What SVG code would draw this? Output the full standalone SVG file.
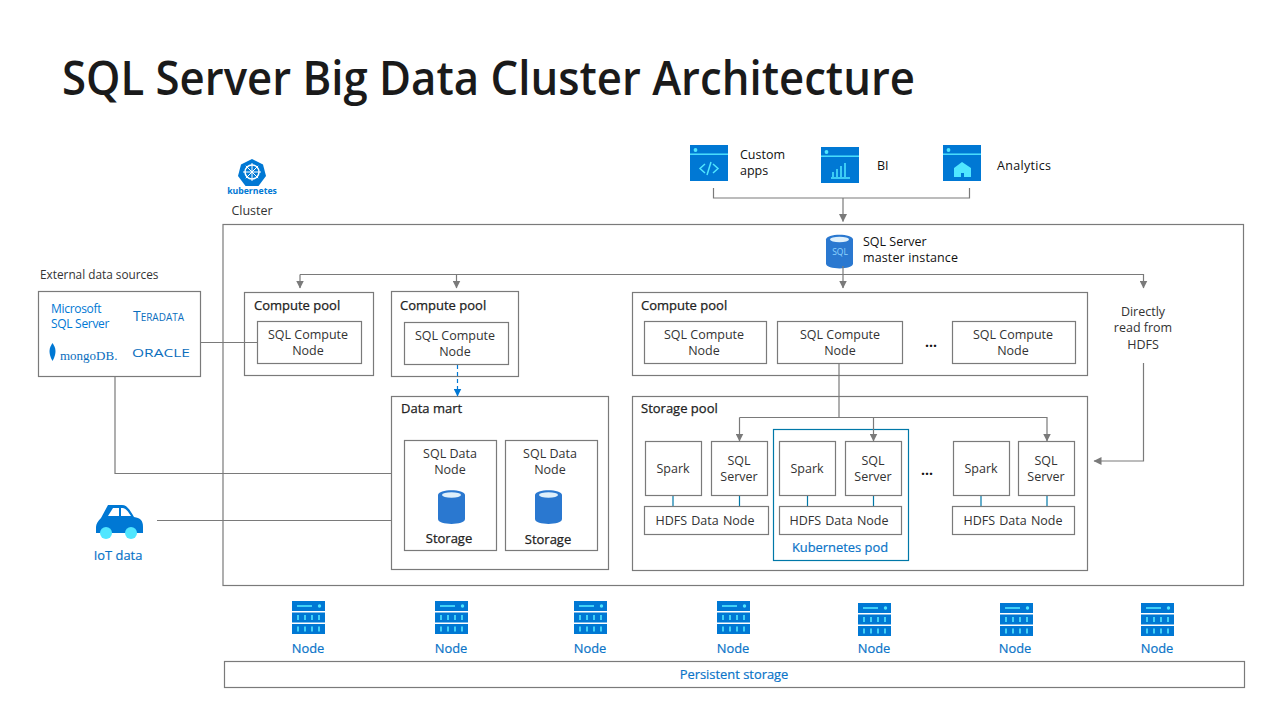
<svg xmlns="http://www.w3.org/2000/svg" width="1280" height="720" viewBox="0 0 1280 720">
<style>
text{font-family:"Open Sans","Noto Sans","Liberation Sans",sans-serif;font-size:12.500px;fill:#333}
.m{text-anchor:middle}
.b{font-weight:500;fill:#111}
.h{font-weight:500;fill:#222;font-size:13px;stroke:#222;stroke-width:.25px}
.blue{fill:#0a74c8;font-weight:500;font-size:12.900px;stroke:#0a74c8;stroke-width:.2px}
.box{fill:#fff;stroke:#7a7a7a;stroke-width:1.2}
.ln{fill:none;stroke:#7a7a7a;stroke-width:1.2}
.tl{fill:none;stroke:#0078a8;stroke-width:1.2}
.ic{fill:#0078d4}.lt{fill:#50e6ff}
.cyl{fill:#2a78d0}
</style>
<defs>
<marker id="a" markerWidth="9" markerHeight="8" refX="7.5" refY="4" orient="auto" markerUnits="userSpaceOnUse"><path d="M0 0L8 4L0 8Z" fill="#7a7a7a"/></marker>
<marker id="ab" markerWidth="9" markerHeight="8" refX="7.5" refY="4" orient="auto" markerUnits="userSpaceOnUse"><path d="M0 0L8 4L0 8Z" fill="#0078d4"/></marker>
<g id="srv"><rect x="0" y="0" width="33" height="10" class="ic"/><rect x="0" y="11.500" width="33" height="10" class="ic"/><rect x="0" y="23" width="33" height="10" class="ic"/><rect x="5" y="4.200" width="15" height="1.600" class="lt"/><circle cx="27.500" cy="5" r="1.700" class="lt"/><path d="M6 14v5M13 14v5M20 14v5M27 14v5M6 25.500v5M13 25.500v5M20 25.500v5M27 25.500v5" stroke="#50e6ff" stroke-width="1.600"/></g>
<g id="cy"><path d="M0 5C0-1.500 27-1.500 27 5V29C27 35.500 0 35.500 0 29Z" class="cyl"/><ellipse cx="13.500" cy="5" rx="9.500" ry="2.700" fill="#dff0fb"/></g>
<g id="win"><rect width="38" height="36" class="ic"/><rect y="8.500" width="38" height="1.400" class="lt"/><circle cx="5.500" cy="5" r="1.900" class="lt"/></g>
</defs>
<rect width="1280" height="720" fill="#fff"/>
<text x="62" y="95" style="font-size:46.500px;font-weight:600;fill:#1a1a1a" textLength="853" lengthAdjust="spacingAndGlyphs">SQL Server Big Data Cluster Architecture</text>

<g id="cluster-frame"><rect x="223" y="224.500" width="1020.500" height="361" class="box"/></g>
<g id="k8s">
<path d="M252 159L263 164.500L266 176L258.500 186H245.500L238 176L241 164.500Z" class="ic"/>
<circle cx="252" cy="172" r="7" fill="none" stroke="#fff" stroke-width="1.500"/>
<path d="M252 163V181M243 172H261M245.800 165.800L258.200 178.200M258.200 165.800L245.800 178.200" stroke="#fff" stroke-width="1"/>
<text x="252" y="194" class="m" style="font-size:8.700px;font-weight:700;fill:#0078d4">kubernetes</text>
<text x="252" y="215" class="m">Cluster</text>
</g>

<g id="custom-apps"><use href="#win" x="690" y="145"/><path d="M705 164l-5 4.500 5 4.500M713 164l5 4.500-5 4.500M711 162l-4 13" fill="none" stroke="#50e6ff" stroke-width="1.500"/><text x="740" y="159" class="b">Custom</text><text x="740" y="175" class="b">apps</text></g>
<g id="bi"><use href="#win" x="821" y="147"/><path d="M831 178h19M833 177v-5M837 177v-8M841 177v-11M845 177v-14" stroke="#50e6ff" stroke-width="1.500" fill="none"/><text x="877" y="170" class="b">BI</text></g>
<g id="analytics"><use href="#win" x="943" y="145"/><path d="M954 177V168L962 162L971 168V177H964V173H961V177Z" class="lt"/><text x="997" y="170" class="b" textLength="54">Analytics</text></g>
<g id="master"><use href="#cy" x="826" y="234.500"/><text x="840" y="255" class="m" style="font-size:8.500px;fill:#8fd4ff">SQL</text><text x="863" y="246" class="b">SQL Server</text><text x="863" y="262" class="b" textLength="95">master instance</text></g>

<g id="external">
<text x="40" y="279" style="font-size:11.800px">External data sources</text>
<rect x="38.500" y="291.500" width="162" height="85" class="box"/>
<text x="51" y="313" style="font-size:12px;fill:#0078d4;letter-spacing:-.3px">Microsoft</text>
<text x="51" y="328" style="font-size:12px;fill:#0078d4;letter-spacing:-.3px">SQL Server</text>
<text x="133" y="321" style="font-size:10px;fill:#0a6ebd;font-weight:500" textLength="51" lengthAdjust="spacingAndGlyphs"><tspan style="font-size:14px">T</tspan>ERADATA</text>
<path d="M52.500 343C49 348 48 353 52.500 361C57 353 56 348 52.500 343Z" fill="#0078d4"/>
<text x="60" y="360" style="font-size:13px;fill:#0a6ebd;font-family:'Liberation Serif',serif">mongoDB.</text>
<text x="132" y="357" style="font-size:10.500px;fill:#0a6ebd;font-weight:400" textLength="58" lengthAdjust="spacingAndGlyphs">ORACLE</text>
</g>

<g id="iot">
<path d="M108 505H122C127 505 130 510 134 517C140 518 143 520 143 527V533H96V527C96 524 98 521 101 518Z" class="ic"/>
<path d="M113 508H119V516H108ZM121 508H123C127 509 129 513 131 516H121Z" fill="#fff"/>
<circle cx="106" cy="533" r="6" class="lt"/><circle cx="131" cy="533" r="6" class="lt"/>
<text x="118" y="560" class="m blue">IoT data</text>
</g>

<g id="cp1"><rect x="244.500" y="292.500" width="129" height="83" class="box"/><text x="254" y="310" class="h">Compute pool</text><rect x="257.500" y="321.500" width="104" height="42" class="box"/><text x="308" y="339" class="m">SQL Compute</text><text x="308" y="355" class="m">Node</text></g>
<g id="cp2"><rect x="391.500" y="291.500" width="127" height="85" class="box"/><text x="400" y="310" class="h">Compute pool</text><rect x="404.500" y="322.500" width="104" height="42" class="box"/><text x="455" y="340" class="m">SQL Compute</text><text x="455" y="356" class="m">Node</text></g>
<g id="cp3"><rect x="632.500" y="292.500" width="455" height="83" class="box"/><text x="641" y="310" class="h">Compute pool</text>
<rect x="644.500" y="321.500" width="122" height="42" class="box"/><text x="704" y="339" class="m">SQL Compute</text><text x="704" y="355" class="m">Node</text>
<rect x="777.500" y="321.500" width="125" height="42" class="box"/><text x="840" y="339" class="m">SQL Compute</text><text x="840" y="355" class="m">Node</text>
<text x="931" y="347" class="m b" style="font-size:14px;font-weight:700">...</text>
<rect x="952.500" y="321.500" width="123" height="42" class="box"/><text x="1013" y="339" class="m">SQL Compute</text><text x="1013" y="355" class="m">Node</text></g>
<g id="hdfs-direct"><text x="1143" y="316" class="m">Directly</text><text x="1143" y="332" class="m">read from</text><text x="1143" y="349" class="m">HDFS</text></g>

<g id="datamart"><rect x="391.500" y="396.500" width="217" height="173" class="box"/><text x="401" y="413" class="h">Data mart</text>
<rect x="404.500" y="440.500" width="92" height="110" class="box"/><text x="450" y="458" class="m">SQL Data</text><text x="450" y="474" class="m">Node</text><use href="#cy" x="438" y="490"/><text x="449" y="543" class="m h">Storage</text>
<rect x="505.500" y="440.500" width="92" height="110" class="box"/><text x="550" y="458" class="m">SQL Data</text><text x="550" y="474" class="m">Node</text><use href="#cy" x="535" y="490"/><text x="548" y="544" class="m h">Storage</text></g>

<g id="storage"><rect x="632.500" y="396.500" width="455" height="174" class="box"/><text x="641" y="413" class="h">Storage pool</text>
<rect x="773.500" y="429.500" width="135" height="131" fill="none" stroke="#0078a8" stroke-width="1.200"/>
<path class="tl" d="M673 495.500V506.500M739.500 495.500V506.500M807.500 495.500V506.500M873.500 495.500V506.500M981 495.500V506.500M1047 495.500V506.500"/>
<rect x="645.500" y="441.500" width="56" height="54" class="box"/><text x="673" y="473" class="m">Spark</text>
<rect x="711.500" y="441.500" width="56" height="54" class="box"/><text x="739" y="465" class="m">SQL</text><text x="739" y="481" class="m">Server</text>
<rect x="644.500" y="506.500" width="124" height="28" class="box"/><text x="705" y="525" class="m" style="word-spacing:1px">HDFS Data Node</text>
<rect x="779.500" y="441.500" width="56" height="54" class="box"/><text x="807" y="473" class="m">Spark</text>
<rect x="845.500" y="441.500" width="56" height="54" class="box"/><text x="873" y="465" class="m">SQL</text><text x="873" y="481" class="m">Server</text>
<rect x="779.500" y="506.500" width="122" height="28" class="box"/><text x="839" y="525" class="m" style="word-spacing:1px">HDFS Data Node</text>
<text x="840" y="552" class="m blue">Kubernetes pod</text>
<text x="927" y="475" class="m b" style="font-size:14px;font-weight:700">...</text>
<rect x="953.500" y="441.500" width="56" height="54" class="box"/><text x="981" y="473" class="m">Spark</text>
<rect x="1018.500" y="441.500" width="56" height="54" class="box"/><text x="1046" y="465" class="m">SQL</text><text x="1046" y="481" class="m">Server</text>
<rect x="952.500" y="506.500" width="122" height="28" class="box"/><text x="1013" y="525" class="m" style="word-spacing:1px">HDFS Data Node</text></g>

<g id="node1"><use href="#srv" x="292" y="601"/><text x="308" y="653" class="m blue">Node</text></g>
<g id="node2"><use href="#srv" x="435" y="601"/><text x="451" y="653" class="m blue">Node</text></g>
<g id="node3"><use href="#srv" x="574" y="601"/><text x="590" y="653" class="m blue">Node</text></g>
<g id="node4"><use href="#srv" x="717" y="601"/><text x="733" y="653" class="m blue">Node</text></g>
<g id="node5"><use href="#srv" x="858" y="603"/><text x="874" y="653" class="m blue">Node</text></g>
<g id="node6"><use href="#srv" x="1000" y="603"/><text x="1015" y="653" class="m blue">Node</text></g>
<g id="node7"><use href="#srv" x="1141" y="603"/><text x="1157" y="653" class="m blue">Node</text></g>
<g id="persistent"><rect x="224.500" y="661.500" width="1020" height="26" class="box"/><text x="734" y="679" class="m blue">Persistent storage</text></g>

<g id="connectors">
<path class="ln" d="M713.500 188V198H969.500V188"/>
<path class="ln" d="M843 198V221.500" marker-end="url(#a)"/>
<path class="ln" d="M300 274.500H1143.500V288" marker-end="url(#a)"/>
<path class="ln" d="M300 274.500V288" marker-end="url(#a)"/>
<path class="ln" d="M456.500 274.500V288" marker-end="url(#a)"/>
<path class="ln" d="M843 266V288" marker-end="url(#a)"/>
<path class="ln" d="M200 342.500H257"/>
<path class="ln" d="M115 376.500V473.500H391"/>
<path class="ln" d="M157 520.500H391"/>
<path d="M457.500 365V396" fill="none" stroke="#0078d4" stroke-width="1.200" stroke-dasharray="4 3" marker-end="url(#ab)"/>
<path class="ln" d="M839 364V417.500"/>
<path class="ln" d="M739.500 417.500H1047V441" marker-end="url(#a)"/>
<path class="ln" d="M739.500 417.500V441" marker-end="url(#a)"/>
<path class="ln" d="M873.500 417.500V441" marker-end="url(#a)"/>
<path class="ln" d="M1143.500 363V461H1094" marker-end="url(#a)"/>
</g>
</svg>
